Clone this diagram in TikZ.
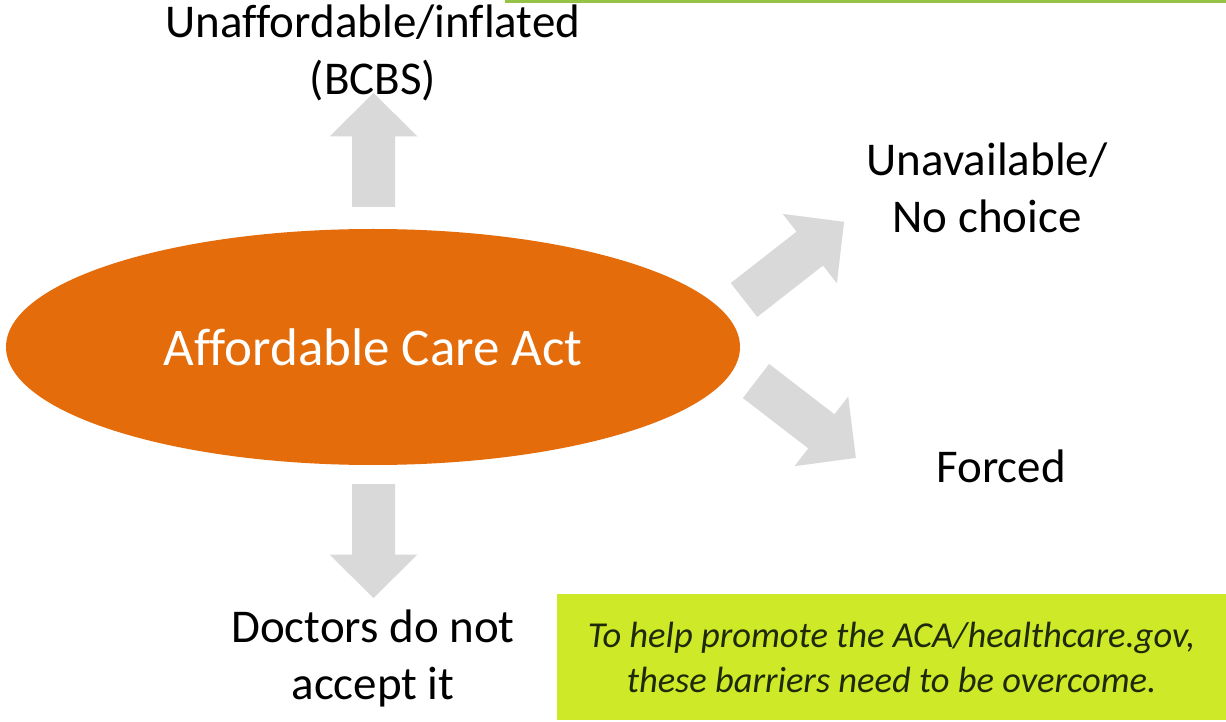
\documentclass[tikz,border=0pt]{standalone}
\usepackage{fontspec}
\setmainfont{Carlito}[Ligatures=NoCommon]
\usetikzlibrary{shapes.geometric}
\definecolor{acaorange}{RGB}{228,108,10}
\definecolor{arrowgray}{RGB}{217,217,217}
\definecolor{notegreen}{RGB}{205,233,40}
\definecolor{notetext}{RGB}{30,42,10}
\definecolor{ruleline}{RGB}{150,195,70}
\tikzset{
  label/.style={align=center, inner sep=0pt, text=black,
    font=\fontsize{47}{57}\selectfont},
  % block arrow of total length #1, starting at the origin, pointing along +x
  pics/barrow/.style={code={
    \fill[arrowgray] (0,-21.5) -- ({#1-43.5},-21.5) -- ({#1-43.5},-44)
      -- (#1,0) -- ({#1-43.5},44) -- ({#1-43.5},21.5) -- (0,21.5) -- cycle;}}
}
\begin{document}
\begin{tikzpicture}[x=1pt,y=1pt]
\useasboundingbox (0,0) rectangle (1226,721);
\fill[white] (0,0) rectangle (1226,721);

% thin rule along the top edge
\coordinate (ruleL) at (505,719.5);
\coordinate (ruleR) at (1226,719.5);
\draw[ruleline, line width=3pt] (ruleL) -- (ruleR);

% central ellipse
\node[ellipse, fill=acaorange, minimum width=734pt, minimum height=236pt,
  inner sep=0pt, text=white, font=\fontsize{53}{64}\selectfont]
  (aca) at (373,374) {Affordable Care Act};

% outcome labels
\node[label] (cost) at (373,668) {Unaffordable/inflated\\(BCBS)};
\node[label] (avail) at (987,533) {Unavailable/\\No choice};
\node[label] (forced) at (1001,255) {Forced};
\node[label] (doctors) at (373,63) {Doctors do not\\accept it};

% block arrows pointing from the ellipse to each label
\coordinate (upS) at (373.5,514);
\coordinate (downS) at (373.5,237);
\coordinate (urS) at (744,421);
\coordinate (lrS) at (756,340);
\pic[rotate=90] at (upS) {barrow=114};
\pic[rotate=-90] at (downS) {barrow=114};
\pic[rotate=38] at (urS) {barrow=127};
\pic[rotate=-37.6] at (lrS) {barrow=126};

% note box
\node[fill=notegreen, minimum width=669pt, minimum height=126pt, inner sep=0pt,
  align=center, text=notetext, font=\fontsize{36.5}{45}\selectfont\itshape]
  (note) at (891.5,64) {To help promote the ACA/healthcare.gov,\\these barriers need to be overcome.};
\end{tikzpicture}
\end{document}
